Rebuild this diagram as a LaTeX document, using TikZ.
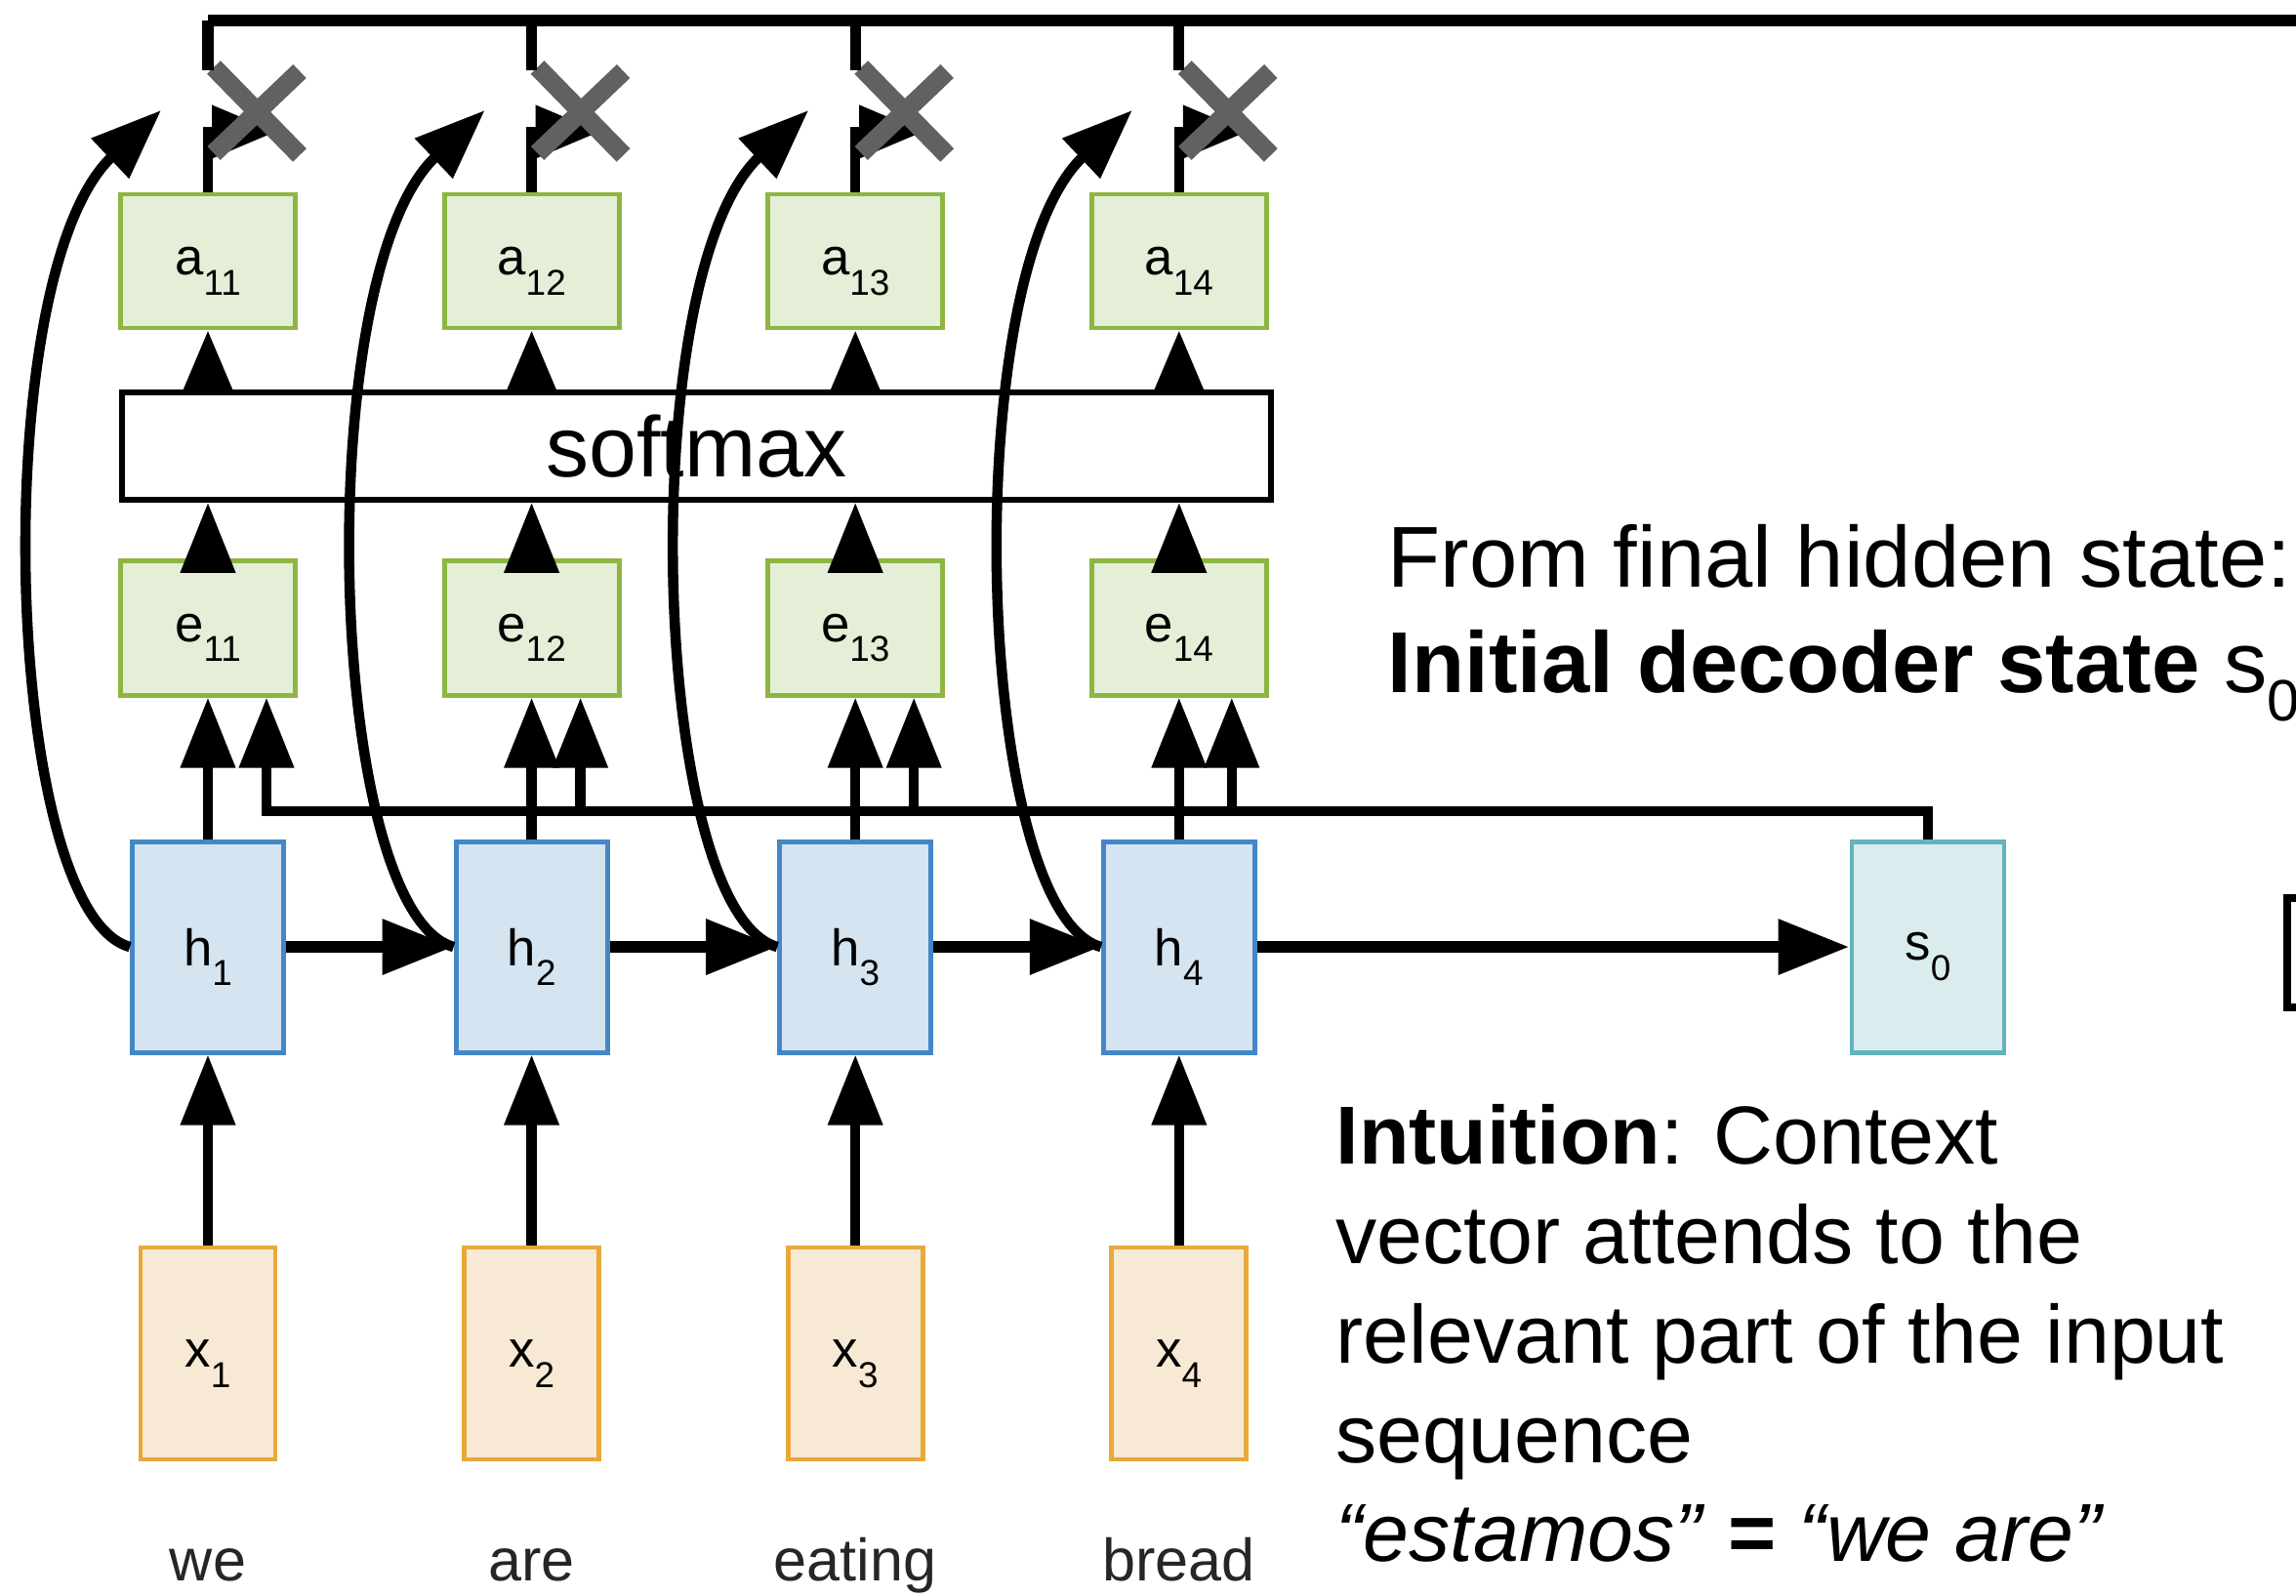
\documentclass[tikz,border=0pt]{standalone}
\usepackage{fontspec}
\setmainfont{Liberation Sans}
\usepackage{xcolor}
\usetikzlibrary{arrows.meta, positioning}

\definecolor{infill}{HTML}{F7E9D4}
\definecolor{indraw}{HTML}{E8A93A}
\definecolor{encfill}{HTML}{D5E4F1}
\definecolor{encdraw}{HTML}{4487C6}
\definecolor{attfill}{HTML}{E5EED7}
\definecolor{attdraw}{HTML}{8DB641}
\definecolor{decfill}{HTML}{DBECEF}
\definecolor{decdraw}{HTML}{62B3BE}

\newcommand{\boxlbl}[2]{#1\raisebox{-5.9pt}[0pt][0pt]{\fontsize{10.5}{10.5}\selectfont #2}}

\begin{document}
\begin{tikzpicture}[
    box/.style={rectangle, line width=1.4pt, inner sep=0pt, font=\fontsize{15}{18}\selectfont},
    xnode/.style={box, draw=indraw, fill=infill, minimum width=1.38cm, minimum height=2.17cm},
    hnode/.style={box, draw=encdraw, fill=encfill, minimum width=1.55cm, minimum height=2.16cm},
    snode/.style={box, draw=decdraw, fill=decfill, minimum width=1.56cm, minimum height=2.16cm},
    enode/.style={box, draw=attdraw, fill=attfill, minimum width=1.79cm, minimum height=1.38cm},
    smax/.style={rectangle, draw, line width=1.6pt, fill=white, minimum width=11.77cm, minimum height=1.1cm, font=\fontsize{25}{30}\selectfont},
    arr/.style={-{Triangle[length=0.72cm, width=0.54cm]}, line width=3pt},
    harr/.style={-{Triangle[length=0.73cm, width=0.54cm]}, line width=3.6pt},
    sarr/.style={-{Triangle[length=0.66cm, width=0.52cm]}, line width=3pt},
    wire/.style={line width=3.2pt},
    xmark/.style={line width=5.5pt, color=black!62},
    word/.style={anchor=base, inner sep=0pt, font=\fontsize{17.4}{20}\selectfont, text=black!85},
    note/.style={anchor=base west, inner sep=0pt, align=left}
]
\useasboundingbox (0,0) rectangle (23.52,16.35);
\clip (0,0) rectangle (23.52,16.35);

% Encoder columns
\foreach \i/\x/\o/\w in {1/2.13/0.60/we, 2/5.446/0.50/are, 3/8.762/0.60/eating, 4/12.078/0.54/bread} {
    \node[xnode] (x\i) at (\x, 2.485) {\boxlbl{x}{\i}};
    \node[hnode, above=1.95cm of x\i] (h\i) {\boxlbl{h}{\i}};
    \node[enode, above=1.45cm of h\i] (e\i) {\boxlbl{e}{1\i}};
    \node[enode, minimum height=1.37cm] (a\i) at (\x, 13.675) {\boxlbl{a}{1\i}};
    \node[word] (w\i) at (\x, 0.15) {\w};
    \coordinate (eb\i) at ({\x+\o}, 8.04);
    \coordinate (m\i) at ({\x+0.50}, 15.20);
    \coordinate (t\i) at ({\x+0.70}, 15.00);
    \coordinate (c\i) at ({\x-0.48}, 15.22);
    \coordinate (b\i) at (\x, 15.63);
}

\node[smax] (softmax) at (7.135, 11.78) {softmax};
\node[snode] (s0) at (h4 -| 19.75,0) {\boxlbl{s}{0}};
\coordinate (busend) at (24, 16.14);

% Recurrence
\draw[harr] (h1) -- (h2);
\draw[harr] (h2) -- (h3);
\draw[harr] (h3) -- (h4);
\draw[harr] (h4) -- (s0);

% Decoder state to every score
\draw[arr] (s0.north) |- (eb1) -- (eb1 |- e1.south);
\foreach \i in {2,3,4} {
    \draw[arr] (eb\i) -- (eb\i |- e\i.south);
}

\foreach \i in {1,2,3,4} {
    \draw[arr] (x\i) -- (h\i);
    \draw[arr] (h\i) -- (e\i);
    \draw[arr] (e\i.north) -- (e\i.north |- softmax.south);
    \draw[sarr] (a\i.south |- softmax.north) -- (a\i.south);
    % weights times hidden states
    \draw[arr] (h\i.west) .. controls +(-1.3,0.36) and +(-1.8,-1.7) .. (c\i);
    \draw[sarr] (a\i.north) |- (t\i);
    \draw[xmark] (m\i) ++(-0.44,0.46) -- ++(0.88,-0.9) (m\i) ++(0.44,0.42) -- ++(-0.88,-0.84);
    \draw[wire] (b\i) -- (b\i |- busend);
}
\draw[wire] (b1 |- busend) -- (busend);

% Next decoder step (cut off)
\draw[line width=2.2pt] (23.43, 6.03) rectangle (24, 7.15);

% Notes
\node[note, font=\fontsize{25.2}{30}\selectfont] (from) at (14.21, 10.33) {From final hidden state:};
\node[note, font=\fontsize{25.2}{30}\selectfont] (init) at (14.21, 9.25) {\textbf{Initial decoder state} s\raisebox{-8pt}{\fontsize{17}{17}\selectfont 0}};
\node[note, font=\fontsize{24}{29}\selectfont] (intuition) at (13.68, 0.35) {\textbf{Intuition}: Context\\vector attends to the\\relevant part of the input\\sequence\\\textit{“estamos”} \textbf{=} \textit{“we are”}};

\end{tikzpicture}
\end{document}
